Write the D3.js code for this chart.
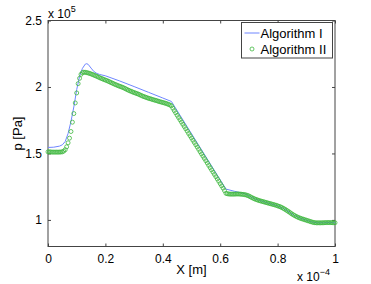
<!DOCTYPE html>
<html lang="en">
<head>
<meta charset="utf-8">
<script src="https://d3js.org/d3.v7.min.js"></script>
<style>
  body { margin: 0; background: #fff; }
  text { font-family: "Liberation Sans", Arial, sans-serif; fill: #000; }
</style>
</head>
<body>
<script>
// x in units of 1e-4 m, p in units of 1e5 Pa
var xTicks = [0, 0.2, 0.4, 0.6, 0.8, 1];
var yTicks = [1, 1.5, 2, 2.5];

var algo1X = [0, 0.02, 0.04, 0.05, 0.06, 0.07, 0.08, 0.09, 0.10, 0.11, 0.12, 0.13, 0.135, 0.14, 0.15, 0.16, 0.17, 0.18, 0.20, 0.25, 0.30, 0.35, 0.40, 0.43, 0.62, 0.65, 0.68, 0.69, 0.70, 0.72, 0.76, 0.80, 0.82, 0.84, 0.86, 0.88, 0.90, 0.92, 0.94, 0.96, 0.98, 1.00];
var algo1P = [1.545, 1.547, 1.555, 1.565, 1.59, 1.65, 1.74, 1.85, 1.98, 2.08, 2.14, 2.172, 2.175, 2.170, 2.142, 2.116, 2.102, 2.094, 2.084, 2.045, 2.003, 1.960, 1.917, 1.891, 1.232, 1.215, 1.200, 1.192, 1.181, 1.159, 1.131, 1.106, 1.087, 1.060, 1.032, 1.012, 0.998, 0.984, 0.978, 0.979, 0.980, 0.979];

// Algorithm II sampled every 0.005
var algo2X = d3.range(0, 201).map(function(i) { return i / 200; });
var algo2P = [
  1.512, 1.512, 1.511, 1.510, 1.510, 1.510, 1.510, 1.510, 1.510, 1.511,
  1.512, 1.518, 1.528, 1.550, 1.580, 1.615, 1.665, 1.735, 1.800, 1.880,
  1.955, 2.025, 2.065, 2.095, 2.108, 2.111, 2.110, 2.108, 2.105, 2.102,
  2.098, 2.094, 2.089, 2.085, 2.080, 2.075, 2.070, 2.065, 2.061, 2.056,
  2.052, 2.048, 2.043, 2.038, 2.033, 2.028, 2.023, 2.018, 2.014, 2.009,
  2.005, 2.001, 1.997, 1.992, 1.987, 1.981, 1.976, 1.971, 1.967, 1.962,
  1.958, 1.954, 1.950, 1.946, 1.941, 1.936, 1.931, 1.927, 1.923, 1.919,
  1.915, 1.912, 1.909, 1.905, 1.902, 1.899, 1.896, 1.892, 1.889, 1.886,
  1.883, 1.880, 1.877, 1.873, 1.869, 1.864, 1.858, 1.840, 1.822, 1.805,
  1.787, 1.770, 1.753, 1.736, 1.719, 1.702, 1.685, 1.668, 1.650, 1.633,
  1.616, 1.599, 1.582, 1.565, 1.548, 1.531, 1.513, 1.496, 1.479, 1.462,
  1.445, 1.428, 1.410, 1.393, 1.376, 1.359, 1.342, 1.325, 1.308, 1.291,
  1.273, 1.256, 1.239, 1.220, 1.200, 1.197, 1.195, 1.194, 1.194, 1.194,
  1.194, 1.195, 1.195, 1.195, 1.194, 1.193, 1.192, 1.190, 1.188, 1.184,
  1.180, 1.174, 1.168, 1.163, 1.158, 1.154, 1.150, 1.146, 1.143, 1.140,
  1.137, 1.134, 1.131, 1.128, 1.125, 1.122, 1.119, 1.116, 1.113, 1.110,
  1.106, 1.102, 1.098, 1.093, 1.087, 1.081, 1.074, 1.067, 1.060, 1.052,
  1.045, 1.038, 1.032, 1.026, 1.021, 1.016, 1.012, 1.008, 1.005, 1.001,
  0.998, 0.994, 0.991, 0.987, 0.984, 0.981, 0.979, 0.978, 0.978, 0.978,
  0.978, 0.978, 0.979, 0.979, 0.980, 0.980, 0.980, 0.980, 0.979, 0.979,
  0.979
];

var margin = {top: 20.5, right: 36, bottom: 37.5, left: 48},
    W = 371, H = 284,
    width = W - margin.left - margin.right,
    height = H - margin.top - margin.bottom;

var svg = d3.select("body").append("svg")
    .attr("width", W).attr("height", H);
var g = svg.append("g")
    .attr("transform", "translate(" + margin.left + "," + margin.top + ")");

var x = d3.scaleLinear().domain([0, 1]).range([0, width]);
var y = d3.scaleLinear().domain([0.8, 2.5]).range([height, 0]);

var axisColor = "#444";

// box
g.append("rect").attr("width", width).attr("height", height)
  .attr("fill", "none").attr("stroke", axisColor).attr("stroke-width", 1);

// inward ticks on all sides
function ticks(sel, axis) {
  sel.call(axis);
  sel.select(".domain").remove();
  sel.selectAll("line").attr("stroke", axisColor);
  sel.selectAll("text").attr("fill", "#000").style("font-size", "12px")
     .style("font-family", "'Liberation Sans', Arial, sans-serif");
}
g.append("g").attr("transform", "translate(0," + height + ")")
  .call(ticks, d3.axisBottom(x).tickValues(xTicks).tickSizeInner(-3).tickSizeOuter(0).tickPadding(8).tickFormat(d3.format("")));
g.append("g")
  .call(function(s) { ticks(s, d3.axisTop(x).tickValues(xTicks).tickSizeInner(-3).tickSizeOuter(0)); s.selectAll("text").remove(); });
g.append("g")
  .call(ticks, d3.axisLeft(y).tickValues(yTicks).tickSizeInner(-3).tickSizeOuter(0).tickPadding(6).tickFormat(d3.format("")));
g.append("g").attr("transform", "translate(" + width + ",0)")
  .call(function(s) { ticks(s, d3.axisRight(y).tickValues(yTicks).tickSizeInner(-3).tickSizeOuter(0)); s.selectAll("text").remove(); });

// clip
g.append("clipPath").attr("id", "clip").append("rect")
  .attr("width", width).attr("height", height);

var line = d3.line()
  .x(function(d, i) { return x(algo1X[i]); })
  .y(function(d) { return y(d); });

g.append("path").datum(algo1P)
  .attr("clip-path", "url(#clip)")
  .attr("fill", "none").attr("stroke", "#6f86ff").attr("stroke-width", 1)
  .attr("d", line);

g.selectAll("circle.a2").data(algo2P).enter().append("circle")
  .attr("class", "a2")
  .attr("cx", function(d, i) { return x(algo2X[i]); })
  .attr("cy", function(d) { return y(d); })
  .attr("r", 2)
  .attr("fill", "none").attr("stroke", "#3fb83f").attr("stroke-width", 0.8);

// axis labels
svg.append("text").attr("x", margin.left + width / 2).attr("y", 274)
  .attr("text-anchor", "middle").style("font-size", "13px").text("X [m]");
svg.append("text")
  .attr("transform", "translate(22," + (margin.top + height / 2) + ") rotate(-90)")
  .attr("text-anchor", "middle").style("font-size", "13px").text("p [Pa]");

// exponent labels
var ex = svg.append("text").attr("x", 297).attr("y", 281).style("font-size", "12px");
ex.append("tspan").text("x 10");
ex.append("tspan").attr("dy", -6).style("font-size", "9px").text("\u22124");
var ey = svg.append("text").attr("x", 48).attr("y", 18).style("font-size", "12px");
ey.append("tspan").text("x 10");
ey.append("tspan").attr("dy", -6).style("font-size", "9px").text("5");

// legend
var lg = svg.append("g").attr("transform", "translate(241.5,22.5)");
lg.append("rect").attr("width", 91).attr("height", 35.5)
  .attr("fill", "#fff").attr("stroke", axisColor).attr("stroke-width", 1);
lg.append("line").attr("x1", 3).attr("x2", 18).attr("y1", 10.5).attr("y2", 10.5)
  .attr("stroke", "#6f86ff").attr("stroke-width", 1);
lg.append("circle").attr("cx", 10.5).attr("cy", 26.5).attr("r", 2)
  .attr("fill", "none").attr("stroke", "#3fb83f").attr("stroke-width", 0.8);
lg.append("text").attr("x", 19).attr("y", 15.5).style("font-size", "13px").text("Algorithm I");
lg.append("text").attr("x", 19).attr("y", 31.5).style("font-size", "13px").text("Algorithm II");
</script>
</body>
</html>
